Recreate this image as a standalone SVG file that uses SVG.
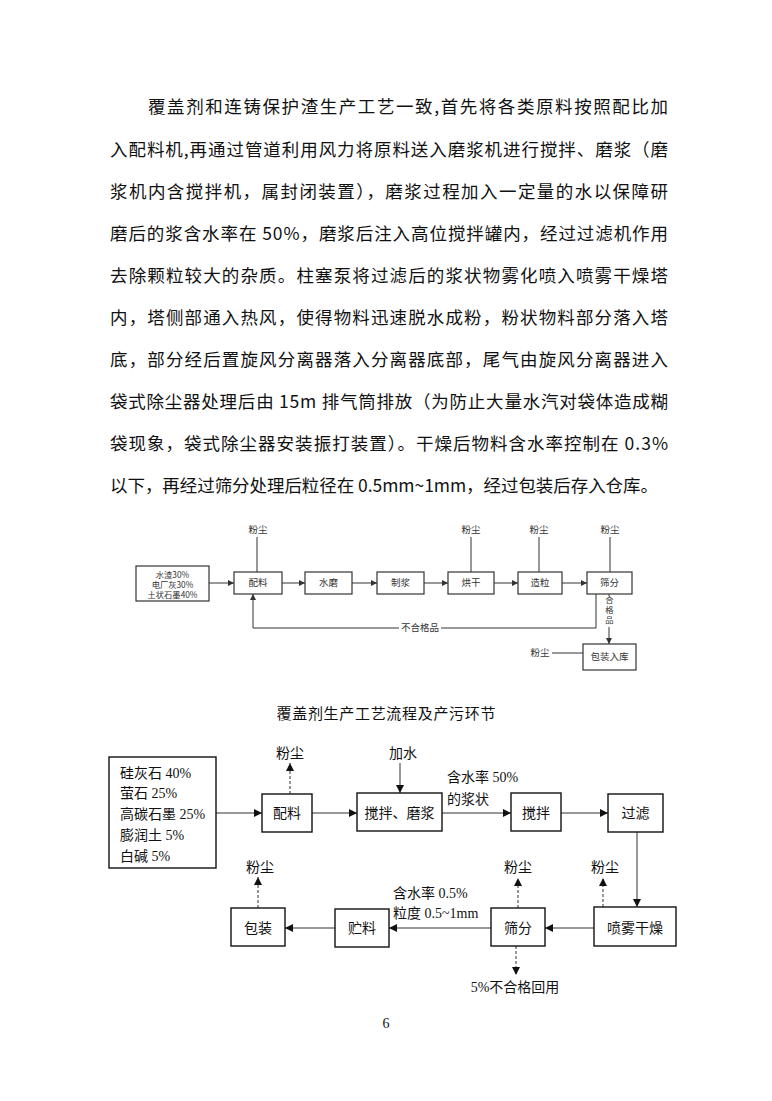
<svg xmlns="http://www.w3.org/2000/svg" width="772" height="1101" viewBox="0 0 772 1101">
<style>
.para{font-family:"Noto Sans CJK SC","Liberation Serif",sans-serif;font-size:17.5px;fill:#111}
.t1{font-family:"Noto Sans CJK SC","Liberation Sans",sans-serif;font-size:9.5px;fill:#333;text-anchor:middle}
.s{font-size:8.3px}
.b1{fill:#fff;stroke:#333;stroke-width:1.2}
.l1{fill:none;stroke:#333;stroke-width:1}
.t2{font-family:"Liberation Serif","Noto Sans CJK SC",serif;font-size:14px;fill:#111}
.c{text-anchor:middle}
.b2{fill:#fff;stroke:#111;stroke-width:1.4}
.l2{fill:none;stroke:#333;stroke-width:1}
.d2{fill:none;stroke:#333;stroke-width:1;stroke-dasharray:3,2}
</style>
<defs>
<marker id="a1" viewBox="0 0 10 10" refX="10" refY="5" markerWidth="8" markerHeight="6" markerUnits="userSpaceOnUse" orient="auto"><path d="M0,0L10,5L0,10z" fill="#333"/></marker>
<marker id="a2" viewBox="0 0 10 10" refX="10" refY="5" markerWidth="9" markerHeight="8" markerUnits="userSpaceOnUse" orient="auto"><path d="M0,0L10,5L0,10z" fill="#111"/></marker>
</defs>
<rect width="772" height="1101" fill="#fff"/>
<g id="paragraph" class="para">
<text x="148" y="113" textLength="520" lengthAdjust="spacing">覆盖剂和连铸保护渣生产工艺一致,首先将各类原料按照配比加</text>
<text x="110" y="156" textLength="558" lengthAdjust="spacing">入配料机,再通过管道利用风力将原料送入磨浆机进行搅拌、磨浆（磨</text>
<text x="110" y="198" textLength="558" lengthAdjust="spacing">浆机内含搅拌机，属封闭装置），磨浆过程加入一定量的水以保障研</text>
<text x="110" y="240" textLength="558" lengthAdjust="spacing">磨后的浆含水率在 50%，磨浆后注入高位搅拌罐内，经过过滤机作用</text>
<text x="110" y="282" textLength="558" lengthAdjust="spacing">去除颗粒较大的杂质。柱塞泵将过滤后的浆状物雾化喷入喷雾干燥塔</text>
<text x="110" y="324" textLength="558" lengthAdjust="spacing">内，塔侧部通入热风，使得物料迅速脱水成粉，粉状物料部分落入塔</text>
<text x="110" y="366" textLength="558" lengthAdjust="spacing">底，部分经后置旋风分离器落入分离器底部，尾气由旋风分离器进入</text>
<text x="110" y="408" textLength="558" lengthAdjust="spacing">袋式除尘器处理后由 15m 排气筒排放（为防止大量水汽对袋体造成糊</text>
<text x="110" y="450" textLength="558" lengthAdjust="spacing">袋现象，袋式除尘器安装振打装置）。干燥后物料含水率控制在 0.3%</text>
<text x="110" y="492" textLength="548" lengthAdjust="spacing">以下，再经过筛分处理后粒径在 0.5mm~1mm，经过包装后存入仓库。</text>
</g>
<g id="top-connectors">
<path class="l1" d="M209,583H234" marker-end="url(#a1)"/>
<path class="l1" d="M282,583H305" marker-end="url(#a1)"/>
<path class="l1" d="M352,583H377" marker-end="url(#a1)"/>
<path class="l1" d="M424,583H448" marker-end="url(#a1)"/>
<path class="l1" d="M494,583H518" marker-end="url(#a1)"/>
<path class="l1" d="M562,583H587" marker-end="url(#a1)"/>
<path class="l1" d="M257,572V537"/>
<path class="l1" d="M471,572V537"/>
<path class="l1" d="M539,572V537"/>
<path class="l1" d="M610,572V537"/>
<path class="l1" d="M596,594V628H253V594" marker-end="url(#a1)"/>
<path class="l1" d="M609,594V644" marker-end="url(#a1)"/>
<path class="l1" d="M552,653H583"/>
<rect x="399" y="622" width="42" height="12" fill="#fff"/>
<text class="t1" x="420" y="631">不合格品</text>
<rect x="603" y="596" width="13" height="31" fill="#fff"/>
<text class="t1 s" x="609.5" y="603">合</text>
<text class="t1 s" x="609.5" y="613">格</text>
<text class="t1 s" x="609.5" y="623">品</text>
<text class="t1" x="258" y="533">粉尘</text>
<text class="t1" x="471" y="533">粉尘</text>
<text class="t1" x="539" y="533">粉尘</text>
<text class="t1" x="610" y="533">粉尘</text>
<text class="t1" x="540" y="656">粉尘</text>
</g>
<g id="top-input"><rect class="b1" x="136" y="566" width="73" height="35"/>
<text class="t1 s" x="172.5" y="578">水渣30%</text><text class="t1 s" x="172.5" y="588">电厂灰30%</text><text class="t1 s" x="172.5" y="598">土状石墨40%</text></g>
<g id="top-peiliao"><rect class="b1" x="234" y="572" width="48" height="22"/><text class="t1" x="258" y="586">配料</text></g>
<g id="top-shuimo"><rect class="b1" x="305" y="572" width="47" height="22"/><text class="t1" x="328.5" y="586">水磨</text></g>
<g id="top-zhijiang"><rect class="b1" x="377" y="572" width="47" height="22"/><text class="t1" x="400.5" y="586">制浆</text></g>
<g id="top-honggan"><rect class="b1" x="448" y="572" width="46" height="22"/><text class="t1" x="471" y="586">烘干</text></g>
<g id="top-zaoli"><rect class="b1" x="518" y="572" width="44" height="22"/><text class="t1" x="540" y="586">造粒</text></g>
<g id="top-shaifen"><rect class="b1" x="587" y="572" width="45" height="22"/><text class="t1" x="609.5" y="586">筛分</text></g>
<g id="top-baozhuang"><rect class="b1" x="583" y="644" width="53" height="26"/><text class="t1" x="609.5" y="660">包装入库</text></g>

<text id="title" x="386" y="719" text-anchor="middle" textLength="219" lengthAdjust="spacing" style="font-family:'Noto Sans CJK SC',sans-serif;font-size:15px;fill:#111">覆盖剂生产工艺流程及产污环节</text>

<g id="bottom-connectors">
<path class="l2" d="M216,813H262" marker-end="url(#a2)"/>
<path class="l2" d="M312,813H357" marker-end="url(#a2)"/>
<path class="l2" d="M400,763V793" marker-end="url(#a2)"/>
<path class="l2" d="M442,813H511" marker-end="url(#a2)"/>
<path class="l2" d="M561,813H608" marker-end="url(#a2)"/>
<path class="l2" d="M637,832V907" marker-end="url(#a2)"/>
<path class="l2" d="M594,928H545" marker-end="url(#a2)"/>
<path class="l2" d="M491,928H389" marker-end="url(#a2)"/>
<path class="l2" d="M335,928H285" marker-end="url(#a2)"/>
<path class="d2" d="M290,794V763" marker-end="url(#a2)"/>
<path class="d2" d="M258,908V877" marker-end="url(#a2)"/>
<path class="d2" d="M518,908V878" marker-end="url(#a2)"/>
<path class="d2" d="M603,907V878" marker-end="url(#a2)"/>
<path class="d2" d="M516,946V975" marker-end="url(#a2)"/>
<text class="t2 c" x="290" y="758">粉尘</text>
<text class="t2 c" x="403" y="758">加水</text>
<text class="t2" x="447" y="782">含水率 50%</text>
<text class="t2" x="447" y="804">的浆状</text>
<text class="t2 c" x="260" y="872">粉尘</text>
<text class="t2 c" x="518" y="872">粉尘</text>
<text class="t2 c" x="605" y="872">粉尘</text>
<text class="t2" x="393" y="898">含水率 0.5%</text>
<text class="t2" x="393" y="918">粒度 0.5~1mm</text>
<text class="t2 c" x="515" y="992">5%不合格回用</text>
</g>
<g id="bottom-input"><rect class="b2" x="109" y="757" width="107" height="111"/>
<text class="t2" x="120" y="778">硅灰石 40%</text>
<text class="t2" x="120" y="798">萤石 25%</text>
<text class="t2" x="120" y="819">高碳石墨 25%</text>
<text class="t2" x="120" y="840">膨润土 5%</text>
<text class="t2" x="120" y="861">白碱 5%</text></g>
<g id="b-peiliao"><rect class="b2" x="262" y="794" width="50" height="38"/><text class="t2 c" x="287" y="818">配料</text></g>
<g id="b-mojiang"><rect class="b2" x="357" y="793" width="85" height="38"/><text class="t2 c" x="399.5" y="818">搅拌、磨浆</text></g>
<g id="b-jiaoban"><rect class="b2" x="511" y="793" width="50" height="38"/><text class="t2 c" x="536" y="818">搅拌</text></g>
<g id="b-guolv"><rect class="b2" x="608" y="794" width="55" height="38"/><text class="t2 c" x="635.5" y="818">过滤</text></g>
<g id="b-penwu"><rect class="b2" x="594" y="907" width="82" height="39"/><text class="t2 c" x="635" y="933">喷雾干燥</text></g>
<g id="b-shaifen"><rect class="b2" x="491" y="908" width="54" height="38"/><text class="t2 c" x="518" y="933">筛分</text></g>
<g id="b-zhuliao"><rect class="b2" x="335" y="909" width="54" height="38"/><text class="t2 c" x="362" y="933">贮料</text></g>
<g id="b-baozhuang"><rect class="b2" x="231" y="908" width="54" height="38"/><text class="t2 c" x="258" y="933">包装</text></g>
<text id="page" x="386" y="1028" text-anchor="middle" style="font-family:'Liberation Serif',serif;font-size:14px;fill:#111">6</text>
</svg>
